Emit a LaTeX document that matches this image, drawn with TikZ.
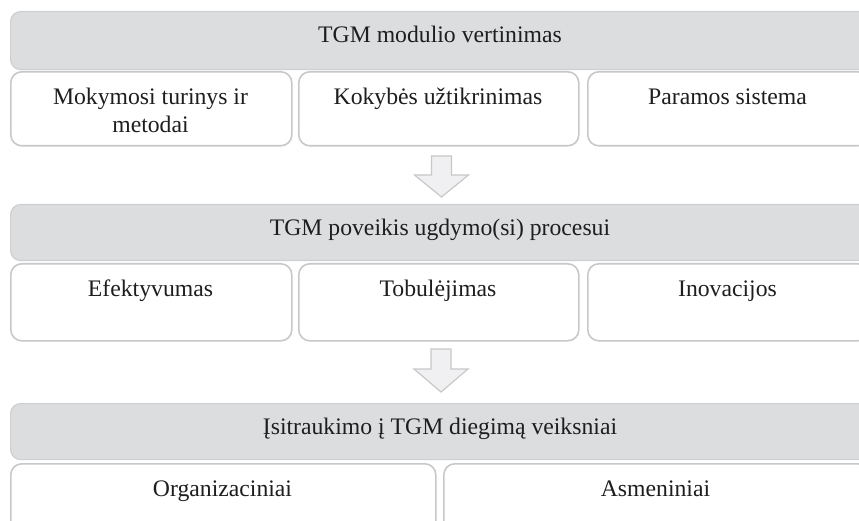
\documentclass[tikz,border=0pt]{standalone}
\usepackage{fontspec}
\setmainfont{Liberation Serif}
\usetikzlibrary{calc}
\definecolor{barfill}{RGB}{220,221,223}
\definecolor{barline}{RGB}{206,207,209}
\definecolor{boxline}{RGB}{200,200,200}
\definecolor{arrowfill}{RGB}{240,240,242}
\definecolor{txt}{RGB}{30,30,30}
\tikzset{
  bar/.style={draw=barline, line width=1.2pt, fill=barfill, rounded corners=10pt,
    anchor=north west, inner sep=0pt},
  cell/.style={draw=boxline, line width=1.6pt, fill=white, rounded corners=11pt,
    anchor=north west, inner sep=0pt},
  lbl/.style={anchor=base, inner sep=0pt, text=txt, align=center,
    font=\fontsize{23.7}{27.5}\selectfont},
  blockarrow/.style={draw=boxline, line width=1.2pt, fill=arrowfill, line join=miter},
}
\begin{document}
\begin{tikzpicture}[x=1pt, y=-1pt]
\useasboundingbox (0,0) rectangle (859,521);
\clip (0,0) rectangle (859,521);

% --- tier 1: module evaluation
\node[bar,  minimum width=860pt, minimum height=58pt] (bar1) at (10,11) {};
\node[lbl] (t1) at (440,43) {TGM modulio vertinimas};
\node[cell, minimum width=281pt, minimum height=74pt] (c11) at (10,71) {};
\node[cell, minimum width=280pt, minimum height=74pt] (c12) at (298,71) {};
\node[cell, minimum width=281pt, minimum height=74pt] (c13) at (587,71) {};
% two-line label: its base anchor sits on the last line
\node[lbl] (t11) at (150.5,132.5) {Mokymosi turinys ir\\metodai};
\node[lbl] (t12) at (438,105) {Kokybės užtikrinimas};
\node[lbl] (t13) at (727.5,105) {Paramos sistema};

% arrow between tier 1 and tier 2
\coordinate (a1) at (441.5,156);
\draw[blockarrow] ($(a1)+(-10,0)$) -- ($(a1)+(10,0)$) -- ($(a1)+(10,19)$)
  -- ($(a1)+(27,19)$) -- ($(a1)+(0,41)$) -- ($(a1)+(-27,19)$)
  -- ($(a1)+(-10,19)$) -- cycle;

% --- tier 2: impact on the learning process
\node[bar,  minimum width=860pt, minimum height=56pt] (bar2) at (10,204) {};
\node[lbl] (t2) at (440,236) {TGM poveikis ugdymo(si) procesui};
\node[cell, minimum width=281pt, minimum height=77pt] (c21) at (10,263) {};
\node[cell, minimum width=280pt, minimum height=77pt] (c22) at (298,263) {};
\node[cell, minimum width=281pt, minimum height=77pt] (c23) at (587,263) {};
\node[lbl] (t21) at (150.5,296) {Efektyvumas};
\node[lbl] (t22) at (438,296) {Tobulėjimas};
\node[lbl] (t23) at (727.5,296) {Inovacijos};

% arrow between tier 2 and tier 3
\coordinate (a2) at (441,349);
\draw[blockarrow] ($(a2)+(-10,0)$) -- ($(a2)+(10,0)$) -- ($(a2)+(10,20)$)
  -- ($(a2)+(27,20)$) -- ($(a2)+(0,43)$) -- ($(a2)+(-27,20)$)
  -- ($(a2)+(-10,20)$) -- cycle;

% --- tier 3: factors of involvement
\node[bar,  minimum width=860pt, minimum height=56pt] (bar3) at (10,403) {};
\node[lbl] (t3) at (440,434) {Įsitraukimo į TGM diegimą veiksniai};
\node[cell, minimum width=425pt, minimum height=80pt] (c31) at (10,463) {};
\node[cell, minimum width=425pt, minimum height=80pt] (c32) at (443,463) {};
\node[lbl] (t31) at (222.5,496) {Organizaciniai};
\node[lbl] (t32) at (655.5,496) {Asmeniniai};
\end{tikzpicture}
\end{document}
